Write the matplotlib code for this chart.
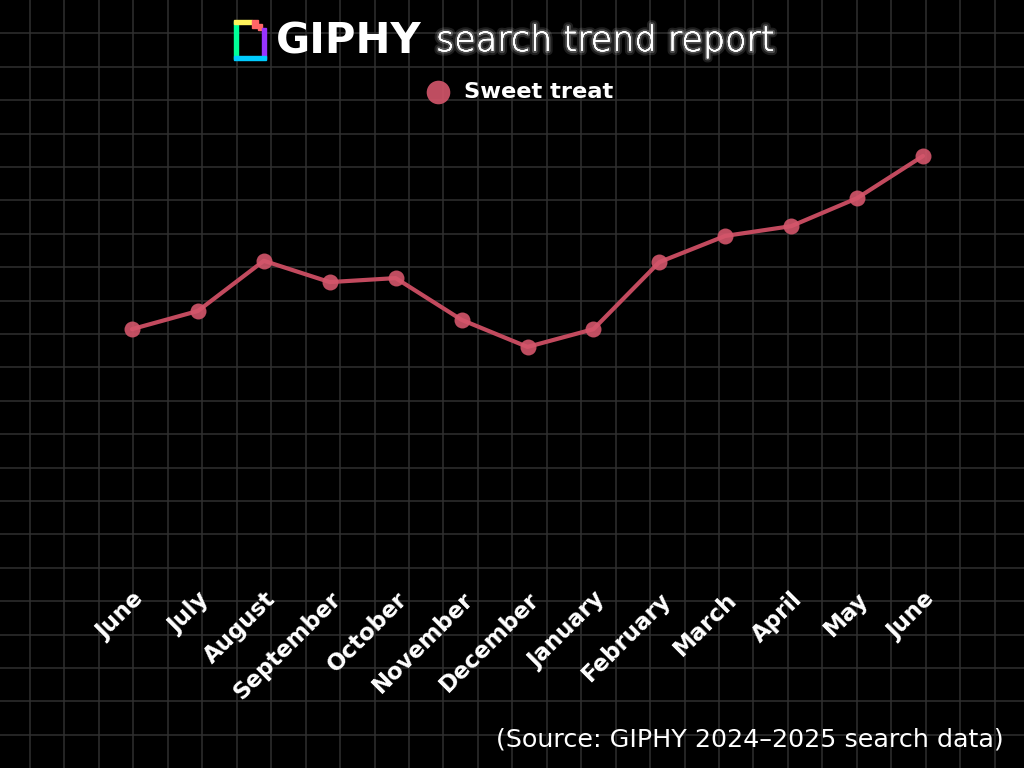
import numpy as np
import matplotlib
matplotlib.use('Agg')
import matplotlib.pyplot as plt
import matplotlib.patheffects as pe
from matplotlib.patches import Rectangle
from matplotlib.transforms import blended_transform_factory, ScaledTranslation

# Data (search interest index)
months = ['June', 'July', 'August', 'September', 'October', 'November',
          'December', 'January', 'February', 'March', 'April', 'May', 'June']
sweet_treat = [61.0, 65.1, 76.4, 71.6, 72.5, 63.1, 57.0, 61.0, 76.1, 82.0, 84.2, 90.5, 100.0]
series_name = 'Sweet treat'
source_text = '(Source: GIPHY 2024\u20132025 search data)'

W, H = 1024, 768
font = 'DejaVu Sans'
line_color = '#c24a5e'
dot_color = '#d4566b'

fig = plt.figure(figsize=(W / 100, H / 100), dpi=100, facecolor='black')

# background grid in pixel coords
bg = fig.add_axes([0, 0, 1, 1])
bg.set_xlim(0, W)
bg.set_ylim(H, 0)
bg.axis('off')
for x in np.arange(30, W, 34.45):
    bg.axvline(x, color='#303030', lw=1.1, zorder=0)
for y in np.arange(33.4, H, 33.4):
    bg.axhline(y, color='#303030', lw=1.1, zorder=0)

# GIPHY logo
bg.add_patch(Rectangle((234, 21), 4, 38, color='#00ff99', zorder=2))
bg.add_patch(Rectangle((234, 20), 18, 4, color='#fff35c', zorder=2))
bg.add_patch(Rectangle((252, 20), 6, 8, color='#ff6666', zorder=2))
bg.add_patch(Rectangle((258, 24), 4, 6, color='#ff6666', zorder=2))
bg.add_patch(Rectangle((262, 28), 4, 31, color='#9933ff', zorder=2))
bg.add_patch(Rectangle((234, 56), 32, 4, color='#00ccff', zorder=2))

# title
bg.text(276, 41, 'GIPHY', color='white', fontsize=30, fontweight='heavy',
        family=font, ha='left', va='center')
bg.text(436, 41, 'search trend report', color='white', fontsize=25.2,
        fontweight=200, family=font, ha='left', va='center',
        path_effects=[pe.withStroke(linewidth=6, foreground=(1, 1, 1, 0.12)),
                      pe.withStroke(linewidth=3, foreground=(1, 1, 1, 0.22)),
                      pe.Normal()])

# legend
bg.plot([438], [92], 'o', ms=17, color=dot_color, alpha=0.9, mec='none')
bg.text(464, 92, series_name, color='white', fontsize=16.2, fontweight='bold',
        family=font, ha='left', va='center')

# source
bg.text(1004, 739, source_text, color='white', fontsize=18.3, family=font,
        ha='right', va='center')

# data axes
ax = fig.add_axes([132 / W, 1 - 600 / H, 791 / W, 444 / H])
ax.set_xlim(0, len(months) - 1)
ax.set_ylim(0, 100)
ax.axis('off')
ax.patch.set_alpha(0)
x = np.arange(len(months))
ax.plot(x, sweet_treat, color=line_color, lw=3, zorder=3, clip_on=False,
        solid_capstyle='round')
ax.plot(x, sweet_treat, 'o', ms=11.5, color=dot_color, alpha=0.9, mec='none',
        zorder=4, clip_on=False)

trans = blended_transform_factory(ax.transData, fig.transFigure) + \
    ScaledTranslation(0.08, 0, fig.dpi_scale_trans)
for i, m in enumerate(months):
    ax.text(i, 1 - 596 / H, m, transform=trans, rotation=45,
            rotation_mode='anchor', ha='right', va='center', color='white',
            fontsize=16.5, fontweight='bold', family=font)

fig.savefig('out.png', dpi=100, facecolor='black')
